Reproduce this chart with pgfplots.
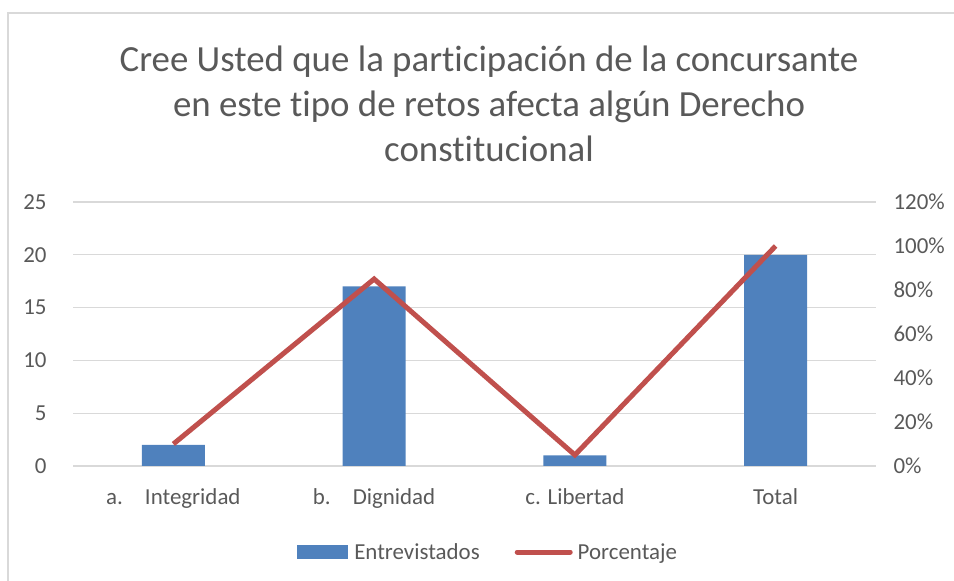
\documentclass[border=0pt]{standalone}
\usepackage{fontspec}
\setmainfont{Carlito}[Ligatures=NoCommon]
\usepackage{pgfplots}
\pgfplotsset{compat=1.18}
\definecolor{barblue}{HTML}{4F81BD}
\definecolor{linered}{HTML}{C0504D}
\definecolor{txtgray}{HTML}{595959}
\definecolor{gridgray}{HTML}{D9D9D9}
\begin{document}
\begin{tikzpicture}
\useasboundingbox (0bp,0bp) rectangle (954bp,581bp);
\draw[gridgray, line width=1.5bp] (8bp,-5bp) -- (8bp,568bp) -- (960bp,568bp);
\begin{scope}[text=txtgray, font=\fontsize{37}{45}\selectfont]
\node[anchor=base] at (489bp,509bp) {Cree Usted que la participación de la concursante};
\node[anchor=base] at (489bp,464bp) {en este tipo de retos afecta algún Derecho};
\node[anchor=base] at (489bp,419bp) {constitucional};
\end{scope}

\begin{axis}[
  at={(73bp,115bp)}, anchor=south west,
  width=803bp, height=264bp, scale only axis,
  xmin=-0.5, xmax=3.5, ymin=0, ymax=25,
  xtick={0,1,2,3},
  xticklabels={a.\hspace{22bp}Integridad, b.\hspace{22bp}Dignidad, c. Libertad, Total},
  ytick={0,5,10,15,20,25},
  yticklabels={0,5,10,15,20,25},
  axis line style={draw=none},
  major tick length=0pt,
  ymajorgrids, grid style={gridgray, line width=1.2bp},
  tick label style={font=\fontsize{23}{23}\selectfont, text=txtgray},
  yticklabel style={xshift=-23bp},
  xticklabel style={yshift=-19bp},
]
\addplot[ybar, bar width=63bp, fill=barblue, draw=none] coordinates {
(0,2) (1,17) (2,1) (3,20)
};
\end{axis}

\begin{axis}[
  at={(73bp,115bp)}, anchor=south west,
  width=803bp, height=264bp, scale only axis,
  xmin=-0.5, xmax=3.5, ymin=0, ymax=1.2,
  axis x line=none,
  axis y line*=right,
  axis line style={draw=none},
  major tick length=0pt,
  ytick={0,0.2,0.4,0.6,0.8,1.0,1.2},
  yticklabels={0\%,20\%,40\%,60\%,80\%,100\%,120\%},
  tick label style={font=\fontsize{23}{23}\selectfont, text=txtgray},
  yticklabel style={xshift=14bp},
  legend columns=2,
  legend style={at={(0.517,-0.326)}, anchor=center, draw=none, fill=none,
    font=\fontsize{23}{23}\selectfont, text=txtgray,
    /tikz/every even column/.append style={column sep=33bp}},
]
\addlegendimage{legend image code/.code={\fill[barblue, draw=none] (0bp,-7bp) rectangle (51bp,7bp);}}
\addlegendentry{\hspace{4bp}Entrevistados}
\addplot[linered, line width=5bp, mark=none,
  legend image code/.code={\draw[linered, line width=5bp, line cap=round] (2.5bp,0bp) -- (55.5bp,0bp);}]
coordinates {
(0,0.10) (1,0.85) (2,0.05) (3,1.00)
};
\addlegendentry{\hspace{3bp}Porcentaje}
\end{axis}
\end{tikzpicture}
\end{document}
